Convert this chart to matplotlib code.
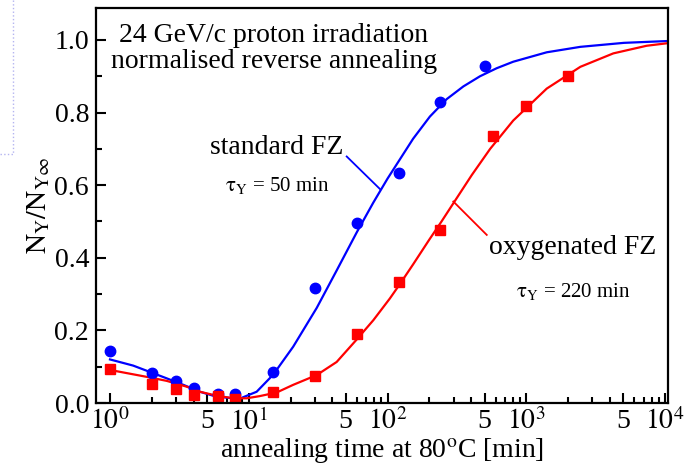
import matplotlib
matplotlib.use("Agg")
import matplotlib.pyplot as plt
from matplotlib.ticker import FixedLocator, FixedFormatter, MultipleLocator
from matplotlib.lines import Line2D

plt.rcParams['font.family'] = ['Liberation Serif', 'DejaVu Serif']
plt.rcParams['mathtext.fontset'] = 'stix'

# measured points
t_std = [1, 2, 3, 4, 6, 8, 15, 30, 60, 120, 240, 500]
n_std = [0.144, 0.082, 0.060, 0.041, 0.026, 0.026, 0.086, 0.316, 0.497, 0.634, 0.830, 0.928]
t_oxy = [1, 2, 3, 4, 6, 8, 15, 30, 60, 120, 240, 580, 1000, 2000]
n_oxy = [0.093, 0.052, 0.039, 0.023, 0.018, 0.010, 0.031, 0.075, 0.190, 0.333, 0.477, 0.736, 0.818, 0.900]

# fitted curves
tfit_std = [1, 1.47, 2.56, 3.38, 4.45, 5.88, 8.6, 11.4, 15.0, 20.9, 30.9, 43, 60,
            79, 100, 153, 202, 267, 352, 464, 611, 805, 1404, 2453, 5052, 10400]
nfit_std = [0.120, 0.103, 0.068, 0.050, 0.031, 0.017, 0.012, 0.031, 0.078, 0.155, 0.262, 0.365, 0.470,
            0.552, 0.618, 0.728, 0.789, 0.837, 0.872, 0.900, 0.922, 0.940, 0.966, 0.981, 0.992, 0.997]
tfit_oxy = [1, 1.47, 1.84, 2.56, 3.57, 4.45, 5.88, 7.76, 9.67, 12.0, 15.9, 20.9, 30.9, 43, 60,
            79, 104, 123, 153, 200, 245, 298, 405, 549, 805, 1404, 2453, 4238, 7366, 10400]
nfit_oxy = [0.091, 0.079, 0.072, 0.061, 0.045, 0.031, 0.020, 0.013, 0.013, 0.019, 0.029, 0.050, 0.077, 0.113, 0.175,
            0.228, 0.288, 0.328, 0.382, 0.450, 0.500, 0.550, 0.628, 0.700, 0.778, 0.866, 0.926, 0.963, 0.984, 0.991]

fig = plt.figure(figsize=(6.97, 4.65), dpi=100)
ax = fig.add_axes([96/697, 62/465, 572/697, 395/465])

ax.plot(tfit_std, nfit_std, color='#0000ff', lw=1.6)
ax.plot(tfit_oxy, nfit_oxy, color='#ff0000', lw=1.6)
ax.plot(t_std, n_std, 'o', color='#0000ff', ms=7.5, mec='#0000ff')
ax.plot(t_oxy, n_oxy, 's', color='#ff0000', ms=7.5, mec='#ff0000')

ax.set_xscale('log')
ax.set_xlim(0.793, 10500)
ax.set_ylim(0, 1.088)

# pointer lines
ax.plot([50.8, 88.4], [0.679, 0.589], color='#0000ff', lw=1.3)
ax.plot([298, 519], [0.555, 0.463], color='#ff0000', lw=1.3)

# ticks
major = [1, 5, 10, 50, 100, 500, 1000, 5000, 10000]
labels = [r'$10^{0}$', '5', r'$10^{1}$', '5', r'$10^{2}$', '5', r'$10^{3}$', '5', r'$10^{4}$']
minor = [m * 10**e for e in range(0, 4) for m in (2, 3, 4, 6, 7, 8, 9)]
ax.xaxis.set_major_locator(FixedLocator(major))
ax.xaxis.set_major_formatter(FixedFormatter(labels))
ax.xaxis.set_minor_locator(FixedLocator(minor))
ax.xaxis.set_minor_formatter(FixedFormatter([''] * len(minor)))
ax.yaxis.set_minor_locator(MultipleLocator(0.1))
ax.set_yticks([0, 0.2, 0.4, 0.6, 0.8, 1.0])
ax.set_yticklabels(['0.0', '0.2', '0.4', '0.6', '0.8', '1.0'])

ax.tick_params(which='both', direction='in', top=False, right=False, labelsize=20, width=1.5)
ax.tick_params(which='major', length=7)
ax.tick_params(which='minor', length=4.5)
ax.tick_params(axis='y', pad=5)
ax.tick_params(axis='x', pad=4)
for s in ax.spines.values():
    s.set_linewidth(1.6)

ax.set_xlabel(r'annealing time at 80$^{\rm o}$C [min]', fontsize=20, labelpad=0)
ax.set_ylabel(r'$\mathrm{N_Y/N_{Y\infty}}$', fontsize=20, labelpad=2)

tr = fig.transFigure
fig.text(274/697, 1 - 35/465, '24 GeV/c proton irradiation', fontsize=20, ha='center', va='center')
fig.text(274/697, 1 - 62/465, 'normalised reverse annealing', fontsize=20, ha='center', va='center')
fig.text(277/697, 1 - 147/465, 'standard FZ', fontsize=20, ha='center', va='center')
fig.text(277/697, 1 - 185/465, r'$\mathrm{\tau_Y}$ = 50 min', fontsize=15, ha='center', va='center')
fig.text(573/697, 1 - 247/465, 'oxygenated FZ', fontsize=20, ha='center', va='center')
fig.text(573/697, 1 - 292/465, r'$\mathrm{\tau_Y}$ = 220 min', fontsize=15, ha='center', va='center')

# faint dotted corner at the left edge of the image
fig.add_artist(Line2D([12.5/697, 12.5/697], [1, 1 - 154/465], transform=tr,
                      color='#b4b4f0', lw=1, ls=':'))
fig.add_artist(Line2D([0, 14/697], [1 - 154/465, 1 - 154/465], transform=tr,
                      color='#b4b4f0', lw=1, ls=':'))

fig.savefig('out.png', dpi=100)
